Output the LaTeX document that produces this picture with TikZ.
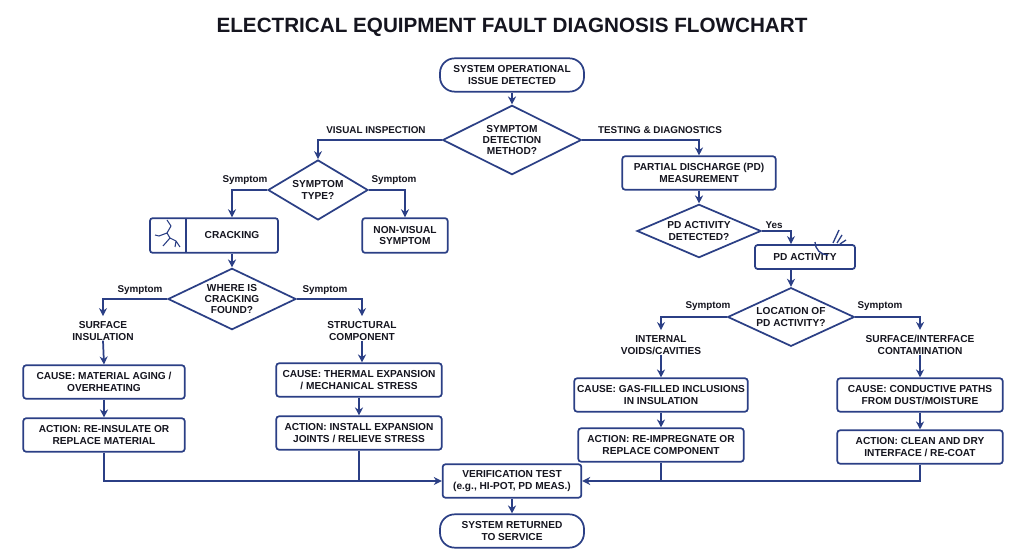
\documentclass[tikz,border=0pt]{standalone}
\usepackage{fontspec}
\setmainfont{Liberation Sans}
\usetikzlibrary{shapes.geometric,arrows.meta}
\definecolor{nv}{HTML}{2B3F85}
\definecolor{tx}{HTML}{15151F}
\begin{document}
\begin{tikzpicture}[x=0.75pt,y=-0.75pt,
  every node/.style={font=\bfseries\fontsize{7.6}{8.6}\selectfont,text=tx,align=center,inner sep=0pt},
  box/.style={draw=nv,line width=1.3pt,rounded corners=2pt,fill=white},
  term/.style={draw=nv,line width=1.3pt,rounded corners=11pt,fill=white,minimum width=108pt,minimum height=25pt},
  dia/.style={draw=nv,line width=1.3pt,diamond,aspect=2,fill=white},
  ln/.style={draw=nv,line width=1.3pt},
  ar/.style={ln,-{Stealth[length=6pt,width=6pt]}},
  lb/.style={font=\bfseries\fontsize{7.4}{8.4}\selectfont}]
\useasboundingbox (0,0) rectangle (1024,559);
\node[font=\bfseries\fontsize{15.5}{17}\selectfont] (title) at (512,27) {ELECTRICAL EQUIPMENT FAULT DIAGNOSIS FLOWCHART};
\node[term] (start) at (512,75) {SYSTEM OPERATIONAL\\ISSUE DETECTED};
\node[dia,minimum width=104pt,minimum height=52pt] (d1) at (512,140) {SYMPTOM\\DETECTION\\METHOD?};
\node[lb] (lvis) at (376,130) {VISUAL INSPECTION};
\node[lb] (ltest) at (660,130) {TESTING \& DIAGNOSTICS};
\node[dia,minimum width=75pt,minimum height=45pt] (d2) at (318,190) {SYMPTOM\\TYPE?};
\node[lb] (s1) at (245,180) {Symptom};
\node[lb] (s2) at (394,180) {Symptom};
\node[box,minimum width=96pt,minimum height=26pt] (crack) at (214,235.5) {\hspace*{27pt}CRACKING};
\coordinate (ic1) at (186,218); \coordinate (ic2) at (186,253);
\draw[ln] (ic1) -- (ic2);
\draw[nv,line width=0.8pt,line join=round] (167,220) -- (171,226) -- (167,233) -- (170,238) -- (163,246)
  (170,238) -- (176,241) -- (180,247) (176,241) -- (175,247) (167,233) -- (159,236) -- (155,235);
\node[box,minimum width=64pt,minimum height=26pt] (nonv) at (405,235.5) {NON-VISUAL\\SYMPTOM};
\node[dia,minimum width=96pt,minimum height=46pt] (d3) at (232,299) {WHERE IS\\CRACKING\\FOUND?};
\node[lb] (s3) at (140,290) {Symptom};
\node[lb] (s4) at (325,290) {Symptom};
\node (surf) at (103,331) {SURFACE\\INSULATION};
\node (stru) at (362,331) {STRUCTURAL\\COMPONENT};
\node[box,minimum width=121pt,minimum height=25pt] (c1) at (104,382) {CAUSE: MATERIAL AGING /\\OVERHEATING};
\node[box,minimum width=121pt,minimum height=25pt] (a1) at (104,435) {ACTION: RE-INSULATE OR\\REPLACE MATERIAL};
\node[box,minimum width=124pt,minimum height=25pt] (c2) at (359,380) {CAUSE: THERMAL EXPANSION\\/ MECHANICAL STRESS};
\node[box,minimum width=124pt,minimum height=25pt] (a2) at (359,433) {ACTION: INSTALL EXPANSION\\JOINTS / RELIEVE STRESS};
\node[box,minimum width=115pt,minimum height=25pt] (pdm) at (699,173) {PARTIAL DISCHARGE (PD)\\MEASUREMENT};
\node[dia,minimum width=93pt,minimum height=40pt] (d4) at (699,231) {PD ACTIVITY\\DETECTED?};
\node[lb] (yes) at (774,225) {Yes};
\node[box,minimum width=75pt,minimum height=18pt] (pda) at (805,257) {PD ACTIVITY};
\draw[nv,line width=1pt] (815,242) arc (180:90:13) (839,230) -- (833,243) (842,235) -- (837,243) (846,240) -- (840,244);
\node[dia,minimum width=95pt,minimum height=44pt] (d5) at (791,317) {LOCATION OF\\PD ACTIVITY?};
\node[lb] (s5) at (708,306) {Symptom};
\node[lb] (s6) at (880,306) {Symptom};
\node (inter) at (661,345) {INTERNAL\\VOIDS/CAVITIES};
\node (surfc) at (920,345) {SURFACE/INTERFACE\\CONTAMINATION};
\node[box,minimum width=130pt,minimum height=25pt] (c3) at (661,395) {CAUSE: GAS-FILLED INCLUSIONS\\IN INSULATION};
\node[box,minimum width=124pt,minimum height=25pt] (a3) at (661,445) {ACTION: RE-IMPREGNATE OR\\REPLACE COMPONENT};
\node[box,minimum width=124pt,minimum height=25pt] (c4) at (920,395) {CAUSE: CONDUCTIVE PATHS\\FROM DUST/MOISTURE};
\node[box,minimum width=124pt,minimum height=25pt] (a4) at (920,447) {ACTION: CLEAN AND DRY\\INTERFACE / RE-COAT};
\node[box,minimum width=104pt,minimum height=25pt] (ver) at (512,481) {VERIFICATION TEST\\(e.g., HI-POT, PD MEAS.)};
\node[term] (end) at (512,531) {SYSTEM RETURNED\\TO SERVICE};
% connectors
\draw[ar] (start) -- (d1);
\draw[ar] (d1.west) -| (d2.north);
\draw[ar] (d1.east) -| (pdm.north);
\draw[ar] (d2.west) -| (crack.north -| 232,0);
\draw[ar] (d2.east) -| (nonv.north);
\draw[ar] (crack.south -| 232,0) -- (d3.north);
\draw[ar] (d3.west) -| ([yshift=4pt]surf.north);
\draw[ar] (d3.east) -| ([yshift=4pt]stru.north);
\draw[ar] (surf.south) -- (c1.north);
\draw[ar] (stru.south) -- (stru.south |- c2.north);
\draw[ar] (c1) -- (a1);
\draw[ar] (c2) -- (a2);
\draw[ar] (pdm) -- (d4);
\draw[ar] (d4.east) -| (pda.north -| d5.north);
\draw[ar] (pda.south -| d5.north) -- (d5.north);
\draw[ar] (d5.west) -| ([yshift=4pt]inter.north);
\draw[ar] (d5.east) -| ([yshift=4pt]surfc.north);
\draw[ar] (inter.south) -- (c3.north);
\draw[ar] (surfc.south) -- (c4.north);
\draw[ar] (c3) -- (a3);
\draw[ar] (c4) -- (a4);
\draw[ar] (a1.south) |- (ver.west);
\draw[ln] (a2.south) -- (a2.south |- ver.west);
\draw[ar] (a4.south) |- (ver.east);
\draw[ln] (a3.south) -- (a3.south |- ver.east);
\draw[ar] (ver) -- (end);
\end{tikzpicture}
\end{document}
